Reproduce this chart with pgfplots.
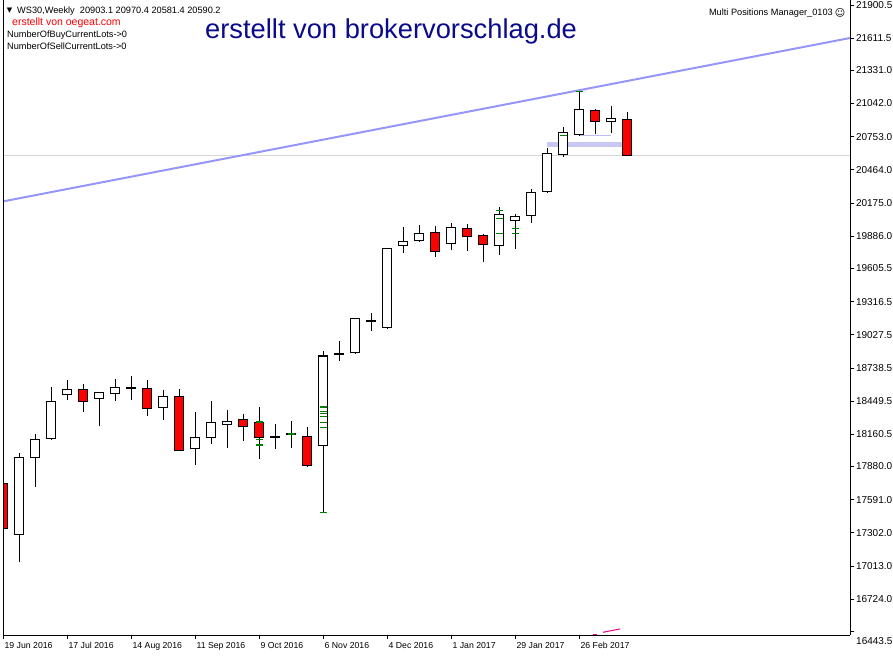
\documentclass[border=0pt]{standalone}
\usepackage{pgfplots}
\pgfplotsset{compat=1.18}
\usepackage{fontspec}
\setmainfont{Liberation Sans}
\newfontfamily\dejavu{DejaVu Sans}
\definecolor{trendblue}{RGB}{150,150,250}
\definecolor{bandlav}{RGB}{200,200,245}
\definecolor{thinlav}{RGB}{190,190,240}
\definecolor{pricegray}{RGB}{215,215,215}
\definecolor{mkgreen}{RGB}{0,128,0}
\definecolor{bignavy}{RGB}{10,10,140}
% candle: i, open, high, low, close, fill
\newcommand{\candle}[6]{%
 \edef\tmp{\noexpand\addplot[black, line width=1pt] coordinates {(#1,#4) (#1,#3)};
 \noexpand\addplot[draw=black, fill=#6, line width=1.1pt] coordinates {(\fpeval{#1-0.28},\fpeval{min(#2,#5)}) (\fpeval{#1+0.28},\fpeval{min(#2,#5)}) (\fpeval{#1+0.28},\fpeval{max(#2,#5)}) (\fpeval{#1-0.28},\fpeval{max(#2,#5)})} -- cycle;}%
 \tmp}
\begin{document}
\begin{tikzpicture}
\useasboundingbox (0,0) rectangle (893pt,656pt);
\begin{axis}[
  at={(3pt,21pt)}, anchor=south west,
  scale only axis, width=847pt, height=635pt,
  xmin=-0.019, xmax=52.92, ymin=16411.9, ymax=21944.06,
  enlargelimits=false,
  axis x line*=bottom, axis y line*=right,
  axis line style={black, line width=1pt},
  tick align=outside, major tick length=3.5pt,
  tick style={black, line width=0.8pt},
  /pgf/number format/assume math mode=true,
  xtick={0,4,8,12,16,20,24,28,32,36},
  xticklabels={19 Jun 2016,17 Jul 2016,14 Aug 2016,11 Sep 2016,9 Oct 2016,6 Nov 2016,4 Dec 2016,1 Jan 2017,29 Jan 2017,26 Feb 2017},
  xticklabel style={anchor=north west, xshift=-2.2pt, font=\fontsize{8.7}{10}\selectfont},
  ytick={21900.5,21611.5,21331.0,21042.0,20753.0,20464.0,20175.0,19886.0,19605.5,19316.5,19027.5,18738.5,18449.5,18160.5,17880.0,17591.0,17302.0,17013.0,16724.0,16443.5},
  yticklabels={{},21611.5,21331.0,21042.0,20753.0,20464.0,20175.0,19886.0,19605.5,19316.5,19027.5,18738.5,18449.5,18160.5,17880.0,17591.0,17302.0,17013.0,16724.0,{}},
  yticklabel style={anchor=west, xshift=-1pt, font=\fontsize{10}{12}\selectfont},
]
% background objects
\addplot[pricegray, line width=1pt] coordinates {(-1,20590.2) (54,20590.2)};
\addplot[trendblue, line width=2pt] coordinates {(-0.21,20184.2) (52.92,21613.0)};
\addplot[bandlav, line width=5pt] coordinates {(33.97,20686.9) (38.67,20686.9)};
\addplot[thinlav, line width=1pt] coordinates {(36.04,20765.3) (37.98,20765.3)};
\addplot[magenta, line width=1pt] coordinates {(36.86,16418) (37.11,16418)};
\addplot[magenta, line width=1pt] coordinates {(37.48,16435.5) (38.54,16464.4)};
% candles: i, open, high, low, close, fill
\candle{0}{17733.6}{18119.5}{17268.4}{17341.5}{red}
\candle{1}{17289.3}{17997.6}{17050.6}{17960.1}{white}
\candle{2}{17960.1}{18163.0}{17704.0}{18116.9}{white}
\candle{3}{18125.6}{18572.5}{18113.4}{18448.0}{white}
\candle{4}{18508.9}{18633.5}{18461.9}{18552.5}{white}
\candle{5}{18552.5}{18598.7}{18357.4}{18448.0}{red}
\candle{6}{18474.1}{18530.0}{18235.4}{18526.3}{white}
\candle{7}{18517.6}{18642.2}{18453.2}{18569.9}{white}
\candle{8}{18562.0}{18668.4}{18461.9}{18570.0}{white}
\candle{9}{18561.2}{18633.5}{18322.5}{18386.9}{red}
\candle{10}{18395.6}{18546.3}{18287.7}{18491.5}{white}
\candle{11}{18491.5}{18555.0}{18015.0}{18021.1}{red}
\candle{12}{18038.5}{18354.8}{17895.6}{18134.3}{white}
\candle{13}{18134.3}{18450.6}{18078.5}{18265.0}{white}
\candle{14}{18247.6}{18372.2}{18043.7}{18273.7}{white}
\candle{15}{18291.1}{18337.3}{18104.7}{18230.1}{red}
\candle{16}{18265.0}{18398.3}{17947.9}{18134.3}{red}
\candle{17}{18135.0}{18250.2}{18035.0}{18144.0}{white}
\candle{18}{18162.0}{18276.3}{18043.7}{18170.0}{white}
\candle{19}{18143.0}{18224.0}{17873.0}{17888.6}{red}
\candle{20}{18064.6}{18886.2}{17474.8}{18842.6}{white}
\candle{21}{18856.0}{18973.3}{18801.6}{18864.0}{white}
\candle{22}{18874.8}{19175.0}{18857.4}{19171.0}{white}
\candle{23}{19146.0}{19217.2}{19062.9}{19154.0}{white}
\candle{24}{19092.6}{19785.0}{19080.4}{19780.9}{white}
\candle{25}{19807.0}{19966.5}{19742.5}{19841.9}{white}
\candle{26}{19850.6}{19983.9}{19838.4}{19911.6}{white}
\candle{27}{19920.3}{19975.2}{19707.7}{19754.7}{red}
\candle{28}{19824.4}{20001.3}{19768.7}{19963.8}{white}
\candle{29}{19955.1}{19992.6}{19759.9}{19885.4}{red}
\candle{30}{19894.1}{19902.8}{19664.2}{19815.7}{red}
\candle{31}{19807.0}{20138.0}{19725.1}{20077.0}{white}
\candle{32}{20024.8}{20077.0}{19777.4}{20059.6}{white}
\candle{33}{20068.3}{20297.5}{20003.9}{20268.7}{white}
\candle{34}{20277.4}{20652.0}{20265.2}{20608.4}{white}
\candle{35}{20596.3}{20837.6}{20578.8}{20791.4}{white}
\candle{36}{20774.0}{21151.3}{20759.2}{20991.8}{white}
\candle{37}{20983.1}{20994.4}{20774.0}{20883.8}{red}
\candle{38}{20883.8}{21020.6}{20782.7}{20913.4}{white}
\candle{39}{20903.1}{20970.4}{20581.4}{20590.2}{red}
% trade markers
\addplot[only marks, mark=-, mark size=3.5pt, mkgreen, line width=1pt] coordinates {
 (16,18117) (20,18361) (20,18343) (20,18317) (20,18265) (20,18221) (20,17477)
 (31,20112) (31,20042) (31,19912) (32,19955) (32,19912) (35,20765) (36,21143)};
\addplot[only marks, mark=-, mark size=3.5pt, mkgreen, line width=2.2pt] coordinates {
 (16,18265) (16,18070) (18,18160) (20,18396)};
\draw[black, line width=1pt] (rel axis cs:0,0) -- (rel axis cs:0,1);
\node[anchor=west, fill=black, text=white, inner sep=1.2pt, xshift=2.5pt,
  font=\fontsize{10}{12}\selectfont] at (axis cs:52.92,20590.2) {20590.2};
\end{axis}
% edge tick labels of the price scale
\node[anchor=north west, inner sep=0, font=\fontsize{10}{12}\selectfont] at (856pt,655pt) {21900.5};
\node[anchor=west, inner sep=0, font=\fontsize{10}{12}\selectfont] at (856pt,15pt) {16443.5};
% header texts
\node[anchor=center, inner sep=0, font=\dejavu\fontsize{7}{8}\selectfont] at (9.5pt,645.3pt) {▼};
\node[anchor=west, inner sep=0, font=\fontsize{9.2}{11}\selectfont] at (17pt,645.3pt) {WS30,Weekly\ \ 20903.1 20970.4 20581.4 20590.2};
\node[anchor=west, inner sep=0, text=red, font=\fontsize{10.5}{12}\selectfont] at (12pt,633.3pt) {erstellt von oegeat.com};
\node[anchor=west, inner sep=0, font=\fontsize{9.2}{11}\selectfont] at (7pt,621pt) {NumberOfBuyCurrentLots->0};
\node[anchor=west, inner sep=0, font=\fontsize{9.2}{11}\selectfont] at (7pt,609.3pt) {NumberOfSellCurrentLots->0};
\node[anchor=base west, inner sep=0, text=bignavy, font=\fontsize{27.3}{30}\selectfont] at (205pt,617.7pt) {erstellt von brokervorschlag.de};
\node[anchor=east, inner sep=0, font=\fontsize{9.2}{11}\selectfont] at (833pt,643.3pt) {Multi Positions Manager\_0103};
\node[anchor=center, inner sep=0, font=\dejavu\fontsize{10}{11}\selectfont] at (840pt,643.5pt) {☺};
\end{tikzpicture}
\end{document}
